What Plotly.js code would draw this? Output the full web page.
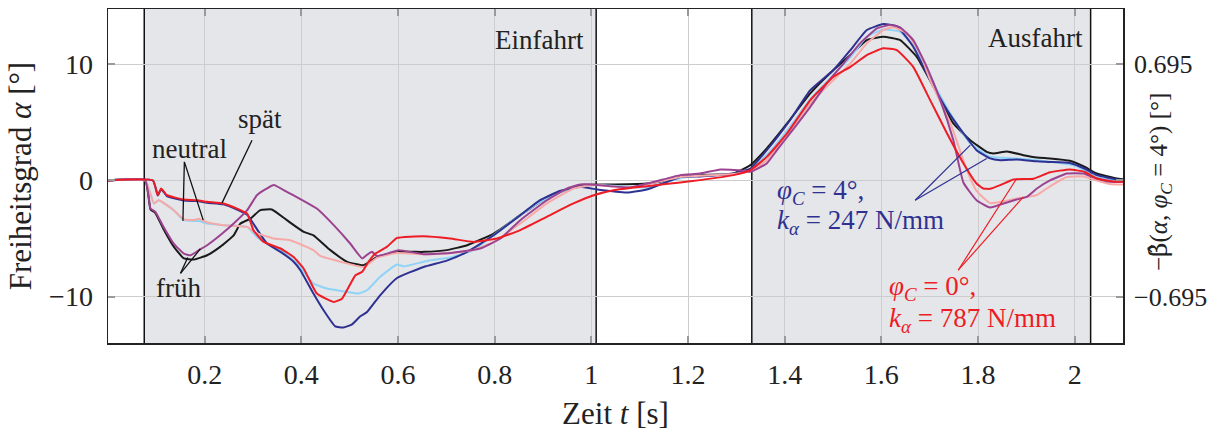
<!DOCTYPE html>
<html>
<head>
<meta charset="utf-8">
<script src="https://cdn.plot.ly/plotly-3.0.1.min.js"></script>
<style>html,body{margin:0;padding:0;background:#fff;}#chart{width:1209px;height:431px;}</style>
</head>
<body>
<div id="chart"></div>
<script>
// ---- data (time in s, angle in degrees) ----
const tNavy = [0,0.093,0.103,0.110,0.122,0.157,0.184,0.205,0.239,0.267,0.288,0.305,0.329,0.357,0.384,0.398,0.425,0.446,0.47,0.487,0.505,0.522,0.536,0.563,0.598,0.653,0.701,0.743,0.798,0.853,0.894,0.936,0.977,1.012,1.074,1.115,1.184,1.225,1.294,1.329,1.363,1.411,1.453,1.501,1.536,1.57,1.604,1.632,1.666,1.701,1.736,1.77,1.797,1.825,1.846,1.88,1.922,1.949,1.99,2.02,2.046,2.087,2.1];
const vNavy = [0,0,-1.3,-0.75,-1.35,-1.72,-1.78,-1.92,-2.05,-2.5,-2.95,-4.0,-5.43,-6.15,-7.0,-7.73,-9.74,-11.18,-12.56,-12.67,-12.39,-11.7,-11.33,-9.89,-8.4,-7.45,-6.9,-6.15,-4.72,-2.99,-1.7,-0.89,-0.55,-0.78,-1.04,-0.78,0.3,0.35,0.6,1.03,2.61,5.2,7.78,9.51,11.23,12.96,13.47,13.3,11.52,8.65,6.06,4.05,2.61,1.9,1.75,1.8,1.65,1.6,1.5,1.03,0.46,0.09,0.05];

const tRed = [0,0.093,0.103,0.110,0.122,0.157,0.184,0.205,0.239,0.267,0.288,0.301,0.322,0.357,0.384,0.405,0.432,0.467,0.484,0.498,0.512,0.526,0.539,0.553,0.577,0.598,0.653,0.708,0.756,0.805,0.853,0.908,0.963,1.005,1.046,1.115,1.184,1.225,1.294,1.329,1.363,1.405,1.453,1.501,1.536,1.57,1.604,1.632,1.666,1.701,1.736,1.77,1.797,1.811,1.825,1.846,1.873,1.915,1.949,1.99,2.02,2.046,2.087,2.1];
const vRed = [0,0,-1.27,-0.69,-1.27,-1.64,-1.7,-1.84,-1.98,-2.42,-2.85,-4.28,-5.29,-5.86,-6.6,-7.6,-9.74,-10.46,-10.18,-9.17,-8.16,-7.87,-7.0,-6.3,-5.72,-4.95,-4.8,-5.0,-5.29,-5.0,-4.28,-3.13,-1.98,-1.27,-0.84,-0.49,-0.17,0.03,0.46,0.89,2.03,4.05,6.92,8.93,9.79,10.8,11.38,11.23,9.79,6.92,4.05,1.47,-0.26,-0.69,-0.72,-0.4,0.09,0.15,0.7,0.95,0.75,0.17,-0.12,-0.1];

const tLight = [0,0.077,0.095,0.105,0.136,0.157,0.178,0.188,0.205,0.239,0.288,0.308,0.329,0.357,0.391,0.425,0.453,0.495,0.518,0.536,0.563,0.598,0.612,0.66,0.708,0.756,0.77,0.839,0.894,0.95,1.005,1.08,1.115,1.184,1.225,1.294,1.329,1.363,1.411,1.453,1.501,1.536,1.57,1.604,1.639,1.673,1.708,1.749,1.784,1.825,1.88,1.922,1.963,2.004,2.032,2.059,2.1];
const vLight = [0,0,-1.98,-1.7,-2.56,-3.42,-3.5,-3.5,-3.71,-3.85,-4.0,-4.86,-5.43,-6.0,-7.16,-8.88,-9.31,-9.6,-9.74,-9.45,-8.3,-7.24,-7.4,-6.93,-6.64,-6.0,-5.58,-3.42,-1.84,-0.78,-0.4,-0.55,-0.6,0.2,0.4,0.55,0.9,2.2,4.62,7.0,9.1,10.6,12.38,13.0,12.81,11.23,8.36,5.34,3.19,2.04,1.9,1.75,1.55,1.25,0.55,0.15,0.0];

const tPink = [0,0.077,0.095,0.105,0.136,0.157,0.178,0.188,0.205,0.239,0.288,0.305,0.343,0.377,0.425,0.439,0.481,0.529,0.557,0.598,0.653,0.701,0.756,0.798,0.853,0.908,0.963,1.005,1.081,1.184,1.225,1.294,1.329,1.363,1.411,1.453,1.501,1.536,1.57,1.604,1.625,1.653,1.68,1.701,1.743,1.777,1.797,1.825,1.853,1.88,1.922,1.949,1.984,2.018,2.046,2.073,2.1];
const vPink = [0,0,-1.98,-1.7,-2.56,-3.35,-3.4,-3.3,-3.6,-3.85,-4.0,-4.5,-5.0,-5.15,-6.0,-6.5,-7.0,-7.45,-6.64,-6.24,-6.35,-6.3,-6.0,-5.29,-3.71,-1.98,-0.69,-0.4,-0.6,0.3,0.4,0.55,0.8,1.75,4.34,6.63,8.65,10.09,11.81,12.96,13.2,12.67,10.95,8.65,4.91,0.89,-0.9,-1.95,-1.8,-1.55,-1.25,-0.5,0.3,0.35,0.0,-0.3,-0.35];

const tPurple = [0,0.077,0.088,0.098,0.115,0.136,0.157,0.171,0.188,0.205,0.232,0.26,0.288,0.308,0.329,0.343,0.370,0.398,0.432,0.467,0.501,0.526,0.536,0.546,0.556,0.577,0.601,0.653,0.708,0.77,0.812,0.853,0.908,0.95,0.977,1.0,1.081,1.184,1.225,1.267,1.308,1.329,1.363,1.384,1.411,1.453,1.487,1.522,1.556,1.591,1.618,1.639,1.666,1.694,1.722,1.749,1.77,1.797,1.825,1.853,1.88,1.901,1.922,1.949,1.984,2.018,2.046,2.073,2.1];
const vPurple = [0,0,-2.42,-2.7,-4.0,-5.43,-6.3,-6.44,-6.0,-5.58,-4.72,-3.71,-2.56,-1.27,-0.69,-0.4,-0.98,-1.6,-2.42,-3.85,-5.43,-6.72,-6.4,-6.15,-6.5,-6.3,-6.0,-6.35,-6.25,-5.86,-5.0,-3.42,-1.7,-0.69,-0.35,-0.35,-0.6,0.46,0.6,0.95,0.89,0.75,1.47,2.61,4.05,6.34,8.36,10.09,11.81,13.1,13.39,13.19,12.09,9.79,6.92,3.47,-0.2,-1.7,-2.33,-1.98,-1.64,-1.41,-0.69,0.0,0.6,0.6,0.17,-0.12,-0.12];

const tBlack = [0,0.077,0.088,0.098,0.115,0.136,0.157,0.178,0.205,0.232,0.26,0.274,0.295,0.315,0.339,0.37,0.405,0.425,0.46,0.495,0.529,0.557,0.601,0.653,0.701,0.743,0.798,0.853,0.894,0.936,0.977,1.046,1.115,1.164,1.184,1.225,1.294,1.329,1.363,1.405,1.453,1.501,1.536,1.57,1.604,1.639,1.673,1.708,1.749,1.784,1.818,1.832,1.86,1.894,1.922,1.949,1.99,2.02,2.046,2.087,2.1];
const vBlack = [0,0,-2.5,-2.8,-4.2,-5.7,-6.72,-6.81,-6.44,-5.72,-4.72,-3.71,-3.28,-2.56,-2.5,-3.42,-4.43,-4.72,-6.0,-7.01,-7.3,-6.58,-6.15,-6.15,-6.0,-5.58,-4.57,-2.99,-1.84,-0.98,-0.4,-0.35,-0.26,0.03,0.3,0.46,0.6,1.32,2.76,4.91,7.5,9.51,10.8,12.09,12.38,12.09,10.66,8.07,4.91,3.47,2.47,2.33,2.5,2.18,1.98,1.9,1.7,1.18,0.6,0.17,0.1];

const xTickVals = [0.2,0.4,0.6,0.8,1,1.2,1.4,1.6,1.8,2];
const xTickText = ["0.2","0.4","0.6","0.8","1","1.2","1.4","1.6","1.8","2"];
const yTickVals = [-10,0,10];
const y2TickVals = [-0.695,0.695];
const y2TickText = ["\u22120.695","0.695"];
const phases = [[0.075,1.01,"Einfahrt"],[1.332,2.033,"Ausfahrt"]];

const FONT = "Liberation Serif, DejaVu Serif, serif";
const NAVY='#2e3192', LIGHT='#8fd3f7', BLACK='#1a1a1a', PINK='#f7a9a8', PURPLE='#9b4290', RED='#ee1c25';

function tr(x,y,c){return {x:x,y:y,mode:'lines',line:{color:c,width:2,shape:'spline',smoothing:0.4},showlegend:false,hoverinfo:'skip'};}
const data = [
  tr(tBlack,vBlack,BLACK),
  tr(tLight,vLight,LIGHT),
  tr(tNavy,vNavy,NAVY),
  tr(tPink,vPink,PINK),
  tr(tPurple,vPurple,PURPLE),
  tr(tRed,vRed,RED),
  {x:[],y:[],yaxis:'y2',mode:'lines',showlegend:false}
];

const yMin=-14.0, yMax=14.77, scale2=0.0695;
const shapes=[];
phases.forEach(p=>{
  shapes.push({type:'rect',xref:'x',yref:'paper',x0:p[0],x1:p[1],y0:0,y1:1,fillcolor:'#e5e6e9',line:{width:0},layer:'below'});
  shapes.push({type:'line',xref:'x',yref:'paper',x0:p[0],x1:p[0],y0:0,y1:1,line:{color:'#111',width:1.5},layer:'below'});
  shapes.push({type:'line',xref:'x',yref:'paper',x0:p[1],x1:p[1],y0:0,y1:1,line:{color:'#111',width:1.5},layer:'below'});
});
function ptr(x0,y0,x1,y1,c,w){shapes.push({type:'line',xref:'x',yref:'y',x0:x0,y0:y0,x1:x1,y1:y1,line:{color:c,width:w||1.3}});}
// pointer lines
ptr(0.158,1.6,0.155,-3.48,'#111');
ptr(0.158,1.6,0.197,-3.42,'#111');
ptr(0.298,3.47,0.236,-1.93,'#111');
ptr(0.150,-8.0,0.165,-6.64,'#111');
ptr(0.150,-8.0,0.191,-5.9,'#111');
ptr(1.670,-1.70,1.784,3.04,NAVY,1.2);
ptr(1.670,-1.70,1.818,1.9,NAVY,1.2);
ptr(1.759,-7.73,1.880,0.17,RED,1.2);
ptr(1.759,-7.73,1.894,-1.41,RED,1.2);

function ann(x,y,text,opts){return Object.assign({x:x,y:y,xref:'x',yref:'y',text:text,showarrow:false,font:{family:FONT,size:27,color:'#222'}},opts||{});}
const annotations=[
  ann(0.988,12.1,phases[0][2],{xanchor:'right'}),
  ann(2.022,12.27,phases[1][2],{xanchor:'right'}),
  ann(0.315,5.28,'spät'),
  ann(0.169,2.74,'neutral'),
  ann(0.146,-9.28,'früh'),
  ann(1.380,-1.0,'<i>φ</i><sub><i>C</i></sub> = 4°,',{xanchor:'left',font:{family:FONT,size:27,color:NAVY}}),
  ann(1.380,-3.6,'<i>k</i><sub><i>α</i></sub> = 247 N/mm',{xanchor:'left',font:{family:FONT,size:27,color:NAVY}}),
  ann(1.611,-9.28,'<i>φ</i><sub><i>C</i></sub> = 0°,',{xanchor:'left',font:{family:FONT,size:27,color:RED}}),
  ann(1.611,-12.04,'<i>k</i><sub><i>α</i></sub> = 787 N/mm',{xanchor:'left',font:{family:FONT,size:27,color:RED}}),
  {xref:'paper',yref:'paper',x:1.0365,y:0.482,text:'\u2212<span style="font-family:DejaVu Serif">β\u0302</span>(<i>α</i>, <i>φ</i><sub><i>C</i></sub> = 4°) [°]',textangle:-90,showarrow:false,font:{family:FONT,size:25,color:'#222'},xanchor:'center',yanchor:'middle'}
];

const layout={
  width:1209,height:431,
  margin:{l:108,r:86,t:9,b:88},
  paper_bgcolor:'#fff',plot_bgcolor:'#fff',
  font:{family:FONT,size:27,color:'#222'},
  showlegend:false,
  xaxis:{range:[0,2.1],tickvals:xTickVals,ticktext:xTickText,ticks:'inside',ticklen:7,tickcolor:'#9a9a9a',tickwidth:2,
    showgrid:true,gridcolor:'#cdcdcd',gridwidth:1,zeroline:false,showline:true,linecolor:'#222',linewidth:1.5,mirror:'ticks',
    tickfont:{family:FONT,size:28,color:'#222'},ticklabelstandoff:6,
    title:{text:'Zeit <i>t</i> [s]',font:{family:FONT,size:31,color:'#222'},standoff:14}},
  yaxis:{range:[yMin,yMax],tickvals:yTickVals,ticks:'inside',ticklen:7,tickcolor:'#9a9a9a',tickwidth:2,
    showgrid:true,gridcolor:'#cdcdcd',gridwidth:1,zeroline:false,showline:true,linecolor:'#222',linewidth:1.5,mirror:'ticks',
    tickfont:{family:FONT,size:28,color:'#222'},ticklabelstandoff:8,
    title:{text:'Freiheitsgrad <i>α</i> [°]',font:{family:FONT,size:31,color:'#222'},standoff:8}},
  yaxis2:{overlaying:'y',side:'right',range:[yMin*scale2,yMax*scale2],tickvals:y2TickVals,ticktext:y2TickText,
    ticks:'',showgrid:false,zeroline:false,showline:false,tickfont:{family:FONT,size:26,color:'#222'},ticklabelstandoff:10},
  shapes:shapes,
  annotations:annotations
};
Plotly.newPlot('chart',data,layout,{staticPlot:true,displayModeBar:false});
</script>
</body>
</html>
